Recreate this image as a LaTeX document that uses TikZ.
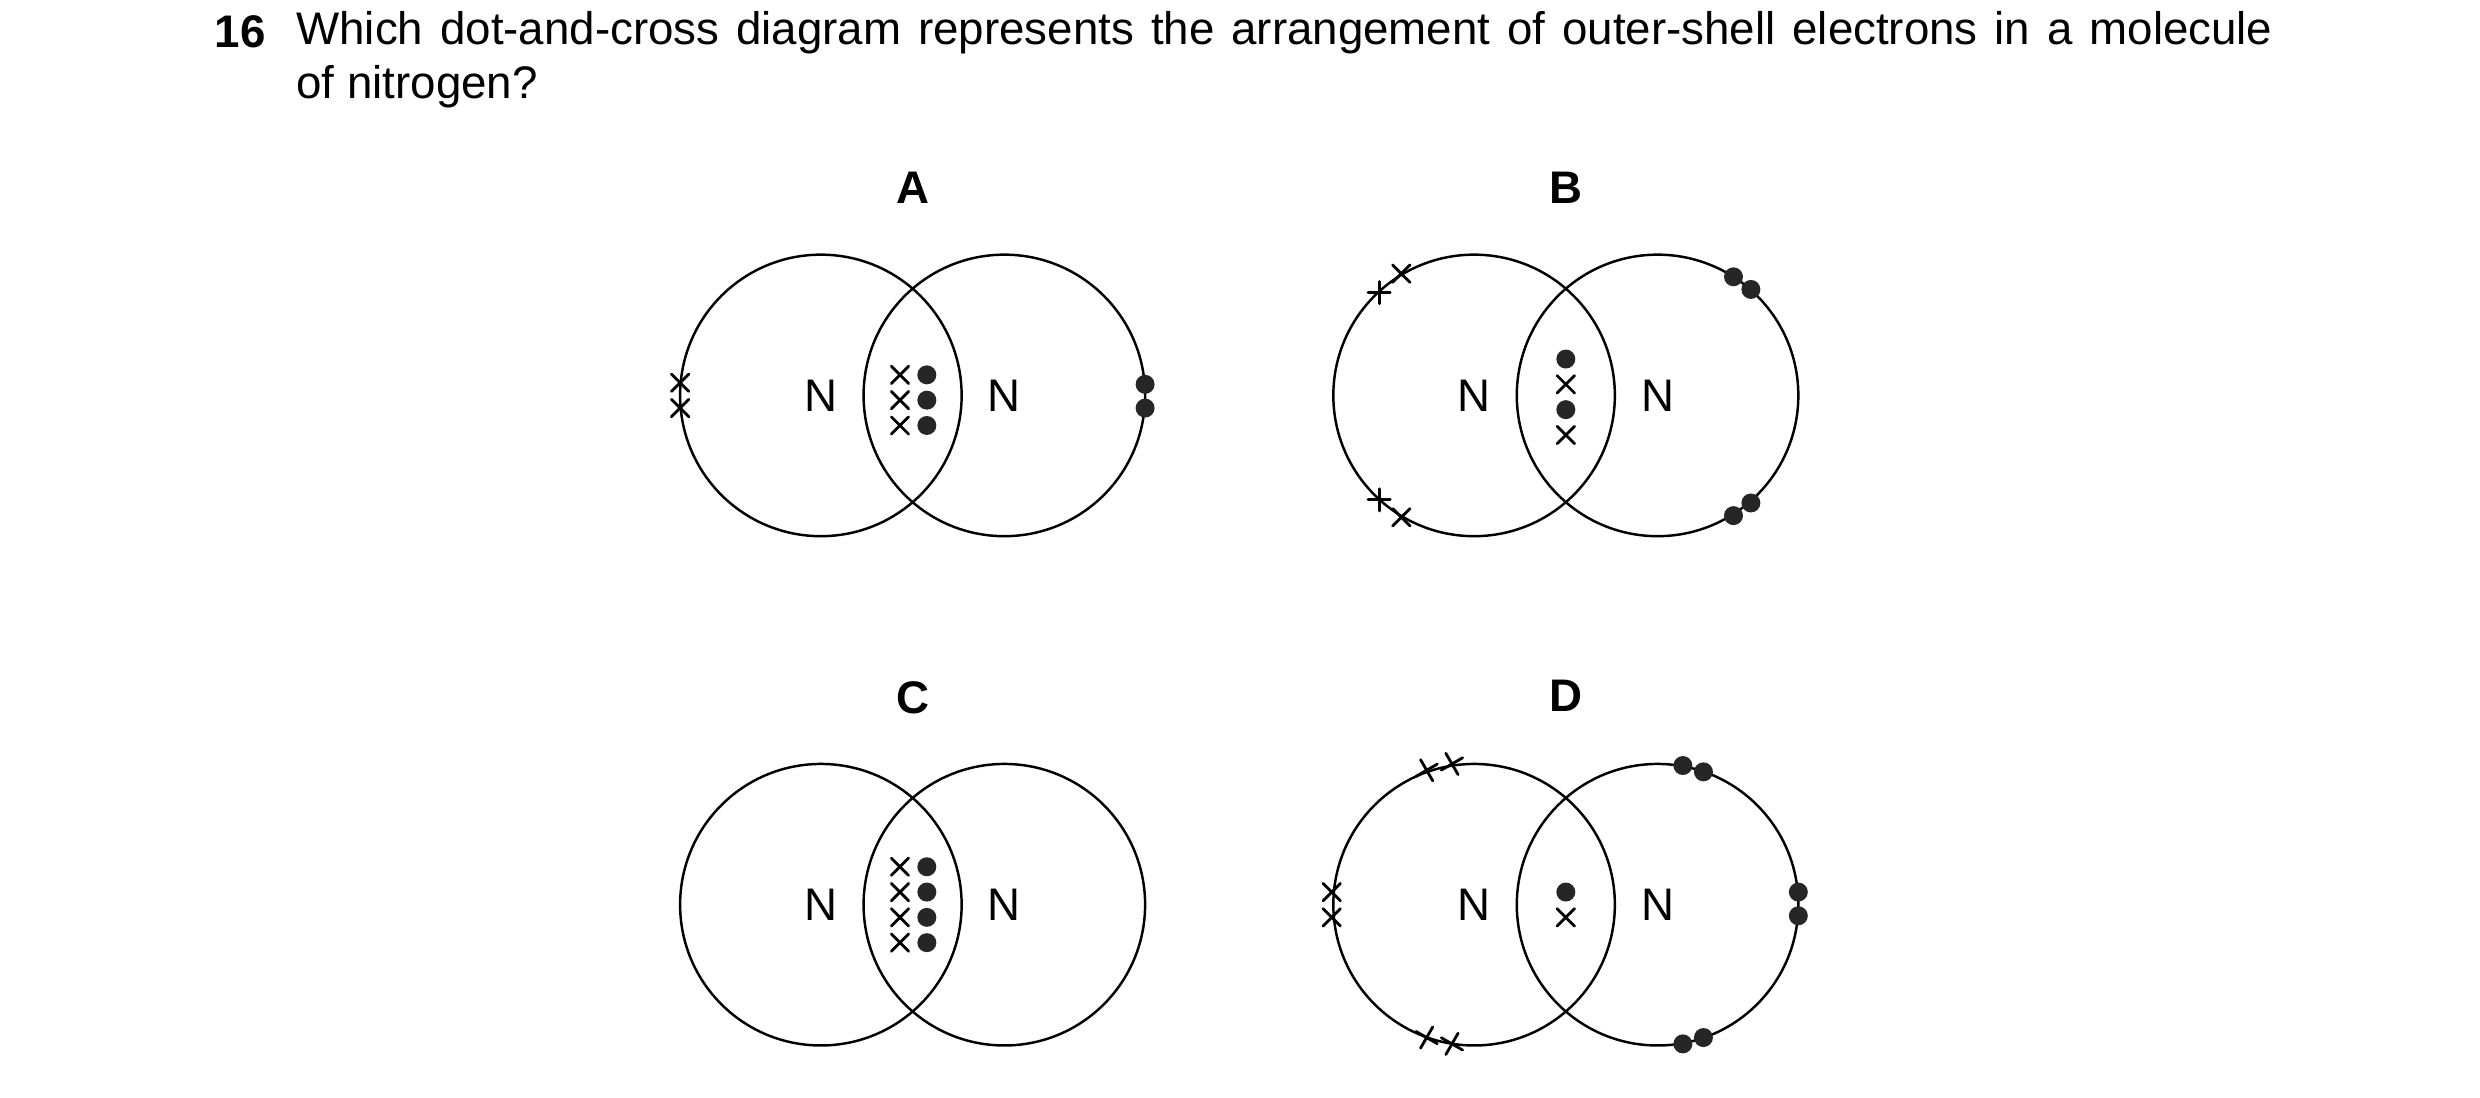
\documentclass[tikz,border=0pt]{standalone}
\usepackage{fontspec}
\setmainfont{Liberation Sans}
\usetikzlibrary{calc}
\tikzset{
  shell/.style={line width=0.7pt},
  elec/.style={line width=0.8pt},
  pics/xx/.style={code={\draw[elec] (-5.5,-5.5) -- (5.5,5.5) (-5.5,5.5) -- (5.5,-5.5);}},
  pics/pp/.style={code={\draw[elec] (-7,0) -- (7,0) (0,-7) -- (0,7);}},
  pics/dd/.style={code={\fill[black!85] (0,0) circle (6);}},
  lbl/.style={font=\fontsize{13}{15}\selectfont},
  ttl/.style={font=\fontsize{13}{15}\selectfont\bfseries}
}
\begin{document}
\begin{tikzpicture}[line cap=round,line join=round,x=0.015816cm,y=-0.015816cm]
\useasboundingbox (0,0) rectangle (1568,693.6);
\node[anchor=west,font=\fontsize{13}{15}\selectfont\bfseries] (num) at (128,20) {16};
\node[anchor=north west,inner sep=0pt,font=\fontsize{13}{15.2}\selectfont] (q) at (187,7)
  {\parbox{19.77cm}{Which dot-and-cross diagram represents the arrangement of outer-shell electrons in a molecule\linebreak of nitrogen?}};
% A
\node[ttl] (tA) at (577,119) {A};
\draw[shell] (519,250) circle (89) (635,250) circle (89);
\node[lbl] (nA1) at (519,250) {N};
\node[lbl] (nA2) at (635,250) {N};
\foreach \y in {237,253,269}
  {\pic at (569,\y) {xx}; \pic at (586,\y) {dd};}
\pic at (430,242) {xx}; \pic at (430,258) {xx};
\pic at (724,243) {dd}; \pic at (724,258) {dd};
% B
\node[ttl] (tB) at (990,119) {B};
\draw[shell] (932,250) circle (89) (1048,250) circle (89);
\node[lbl] (nB1) at (932,250) {N};
\node[lbl] (nB2) at (1048,250) {N};
\pic at (990,227) {dd}; \pic at (990,243) {xx};
\pic at (990,259) {dd}; \pic at (990,275) {xx};
\pic at (872,185) {pp}; \pic at (886,173) {xx};
\pic at (872,316) {pp}; \pic at (886,327) {xx};
\pic at (1096,175) {dd}; \pic at (1107,183) {dd};
\pic at (1096,326) {dd}; \pic at (1107,318) {dd};
% C
\node[ttl] (tC) at (577,441) {C};
\draw[shell] (519,572) circle (89) (635,572) circle (89);
\node[lbl] (nC1) at (519,572) {N};
\node[lbl] (nC2) at (635,572) {N};
\foreach \y in {548,564,580,596}
  {\pic at (569,\y) {xx}; \pic at (586,\y) {dd};}
% D
\node[ttl] (tD) at (990,440) {D};
\draw[shell] (932,572) circle (89) (1048,572) circle (89);
\node[lbl] (nD1) at (932,572) {N};
\node[lbl] (nD2) at (1048,572) {N};
\pic at (990,564) {dd}; \pic at (990,580) {xx};
\pic at (842,564) {xx}; \pic at (842,580) {xx};
\pic[rotate=-15] at (902,487) {xx}; \pic[rotate=-15] at (918,483) {xx};
\pic[rotate=15] at (902,656) {xx}; \pic[rotate=15] at (918,660) {xx};
\pic at (1137,564) {dd}; \pic at (1137,579) {dd};
\pic at (1064,484) {dd}; \pic at (1077,488) {dd};
\pic at (1064,660) {dd}; \pic at (1077,656) {dd};
\end{tikzpicture}
\end{document}
